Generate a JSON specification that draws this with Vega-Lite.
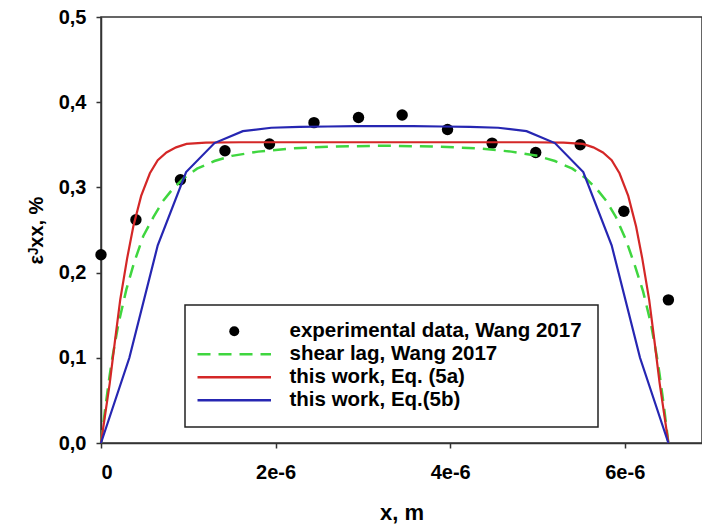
{
  "$schema": "https://vega.github.io/schema/vega-lite/v6.json",
  "width": 601,
  "height": 426,
  "autosize": {"type": "none"},
  "padding": {"left": 101, "top": 17, "right": 0, "bottom": 83},
  "background": "white",
  "config": {
    "view": {"stroke": "#333333", "strokeWidth": 1.5},
    "axis": {
      "grid": false,
      "domainColor": "#333333",
      "domainWidth": 1.5,
      "tickColor": "#333333",
      "tickWidth": 1.5,
      "tickSize": 5,
      "labelFont": "Liberation Sans",
      "labelFontSize": 20,
      "labelFontWeight": "bold",
      "labelColor": "black",
      "titleFont": "Liberation Sans",
      "titleFontSize": 22,
      "titleFontWeight": "bold",
      "titleColor": "black"
    }
  },
  "data": {
    "values": [
      {"x": 0, "y": 0.221, "series": "experimental data, Wang 2017"},
      {"x": 4.0e-7, "y": 0.262, "series": "experimental data, Wang 2017"},
      {"x": 9.1e-7, "y": 0.309, "series": "experimental data, Wang 2017"},
      {"x": 1.42e-6, "y": 0.343, "series": "experimental data, Wang 2017"},
      {"x": 1.93e-6, "y": 0.351, "series": "experimental data, Wang 2017"},
      {"x": 2.44e-6, "y": 0.376, "series": "experimental data, Wang 2017"},
      {"x": 2.95e-6, "y": 0.382, "series": "experimental data, Wang 2017"},
      {"x": 3.45e-6, "y": 0.385, "series": "experimental data, Wang 2017"},
      {"x": 3.97e-6, "y": 0.368, "series": "experimental data, Wang 2017"},
      {"x": 4.48e-6, "y": 0.352, "series": "experimental data, Wang 2017"},
      {"x": 4.98e-6, "y": 0.341, "series": "experimental data, Wang 2017"},
      {"x": 5.49e-6, "y": 0.350, "series": "experimental data, Wang 2017"},
      {"x": 5.99e-6, "y": 0.272, "series": "experimental data, Wang 2017"},
      {"x": 6.5e-6, "y": 0.168, "series": "experimental data, Wang 2017"},

      {"x": 0, "y": 0, "series": "shear lag, Wang 2017"},
      {"x": 5.0e-8, "y": 0.042, "series": "shear lag, Wang 2017"},
      {"x": 1.0e-7, "y": 0.08, "series": "shear lag, Wang 2017"},
      {"x": 1.3e-7, "y": 0.1, "series": "shear lag, Wang 2017"},
      {"x": 2.0e-7, "y": 0.14, "series": "shear lag, Wang 2017"},
      {"x": 2.9e-7, "y": 0.18, "series": "shear lag, Wang 2017"},
      {"x": 3.8e-7, "y": 0.212, "series": "shear lag, Wang 2017"},
      {"x": 4.85e-7, "y": 0.243, "series": "shear lag, Wang 2017"},
      {"x": 6.0e-7, "y": 0.265, "series": "shear lag, Wang 2017"},
      {"x": 7.1e-7, "y": 0.284, "series": "shear lag, Wang 2017"},
      {"x": 8.2e-7, "y": 0.298, "series": "shear lag, Wang 2017"},
      {"x": 9.5e-7, "y": 0.311, "series": "shear lag, Wang 2017"},
      {"x": 1.1e-6, "y": 0.322, "series": "shear lag, Wang 2017"},
      {"x": 1.3e-6, "y": 0.331, "series": "shear lag, Wang 2017"},
      {"x": 1.5e-6, "y": 0.337, "series": "shear lag, Wang 2017"},
      {"x": 1.8e-6, "y": 0.342, "series": "shear lag, Wang 2017"},
      {"x": 2.2e-6, "y": 0.346, "series": "shear lag, Wang 2017"},
      {"x": 2.7e-6, "y": 0.348, "series": "shear lag, Wang 2017"},
      {"x": 3.25e-6, "y": 0.349, "series": "shear lag, Wang 2017"},
      {"x": 3.8e-6, "y": 0.348, "series": "shear lag, Wang 2017"},
      {"x": 4.3e-6, "y": 0.346, "series": "shear lag, Wang 2017"},
      {"x": 4.7e-6, "y": 0.342, "series": "shear lag, Wang 2017"},
      {"x": 5.0e-6, "y": 0.337, "series": "shear lag, Wang 2017"},
      {"x": 5.2e-6, "y": 0.331, "series": "shear lag, Wang 2017"},
      {"x": 5.4e-6, "y": 0.322, "series": "shear lag, Wang 2017"},
      {"x": 5.55e-6, "y": 0.311, "series": "shear lag, Wang 2017"},
      {"x": 5.68e-6, "y": 0.298, "series": "shear lag, Wang 2017"},
      {"x": 5.79e-6, "y": 0.284, "series": "shear lag, Wang 2017"},
      {"x": 5.9e-6, "y": 0.265, "series": "shear lag, Wang 2017"},
      {"x": 6.015e-6, "y": 0.238, "series": "shear lag, Wang 2017"},
      {"x": 6.12e-6, "y": 0.207, "series": "shear lag, Wang 2017"},
      {"x": 6.21e-6, "y": 0.178, "series": "shear lag, Wang 2017"},
      {"x": 6.3e-6, "y": 0.14, "series": "shear lag, Wang 2017"},
      {"x": 6.37e-6, "y": 0.1, "series": "shear lag, Wang 2017"},
      {"x": 6.4e-6, "y": 0.08, "series": "shear lag, Wang 2017"},
      {"x": 6.45e-6, "y": 0.042, "series": "shear lag, Wang 2017"},
      {"x": 6.5e-6, "y": 0, "series": "shear lag, Wang 2017"},

      {"x": 0, "y": 0, "series": "this work, Eq. (5a)"},
      {"x": 5.0e-8, "y": 0.035, "series": "this work, Eq. (5a)"},
      {"x": 1.0e-7, "y": 0.07, "series": "this work, Eq. (5a)"},
      {"x": 1.6e-7, "y": 0.12, "series": "this work, Eq. (5a)"},
      {"x": 2.2e-7, "y": 0.168, "series": "this work, Eq. (5a)"},
      {"x": 3.0e-7, "y": 0.217, "series": "this work, Eq. (5a)"},
      {"x": 3.7e-7, "y": 0.254, "series": "this work, Eq. (5a)"},
      {"x": 4.6e-7, "y": 0.29, "series": "this work, Eq. (5a)"},
      {"x": 5.6e-7, "y": 0.3166, "series": "this work, Eq. (5a)"},
      {"x": 6.5e-7, "y": 0.332, "series": "this work, Eq. (5a)"},
      {"x": 7.5e-7, "y": 0.341, "series": "this work, Eq. (5a)"},
      {"x": 8.6e-7, "y": 0.347, "series": "this work, Eq. (5a)"},
      {"x": 9.8e-7, "y": 0.351, "series": "this work, Eq. (5a)"},
      {"x": 1.2e-6, "y": 0.3525, "series": "this work, Eq. (5a)"},
      {"x": 1.6e-6, "y": 0.353, "series": "this work, Eq. (5a)"},
      {"x": 3.25e-6, "y": 0.353, "series": "this work, Eq. (5a)"},
      {"x": 4.9e-6, "y": 0.353, "series": "this work, Eq. (5a)"},
      {"x": 5.3e-6, "y": 0.3525, "series": "this work, Eq. (5a)"},
      {"x": 5.52e-6, "y": 0.351, "series": "this work, Eq. (5a)"},
      {"x": 5.64e-6, "y": 0.347, "series": "this work, Eq. (5a)"},
      {"x": 5.75e-6, "y": 0.341, "series": "this work, Eq. (5a)"},
      {"x": 5.85e-6, "y": 0.332, "series": "this work, Eq. (5a)"},
      {"x": 5.94e-6, "y": 0.3166, "series": "this work, Eq. (5a)"},
      {"x": 6.04e-6, "y": 0.29, "series": "this work, Eq. (5a)"},
      {"x": 6.13e-6, "y": 0.254, "series": "this work, Eq. (5a)"},
      {"x": 6.2e-6, "y": 0.217, "series": "this work, Eq. (5a)"},
      {"x": 6.28e-6, "y": 0.168, "series": "this work, Eq. (5a)"},
      {"x": 6.34e-6, "y": 0.12, "series": "this work, Eq. (5a)"},
      {"x": 6.4e-6, "y": 0.07, "series": "this work, Eq. (5a)"},
      {"x": 6.45e-6, "y": 0.035, "series": "this work, Eq. (5a)"},
      {"x": 6.5e-6, "y": 0, "series": "this work, Eq. (5a)"},

      {"x": 0, "y": 0, "series": "this work, Eq.(5b)"},
      {"x": 3.25e-7, "y": 0.1, "series": "this work, Eq.(5b)"},
      {"x": 6.5e-7, "y": 0.232, "series": "this work, Eq.(5b)"},
      {"x": 9.75e-7, "y": 0.318, "series": "this work, Eq.(5b)"},
      {"x": 1.3e-6, "y": 0.352, "series": "this work, Eq.(5b)"},
      {"x": 1.625e-6, "y": 0.366, "series": "this work, Eq.(5b)"},
      {"x": 1.95e-6, "y": 0.37, "series": "this work, Eq.(5b)"},
      {"x": 2.275e-6, "y": 0.371, "series": "this work, Eq.(5b)"},
      {"x": 2.6e-6, "y": 0.3715, "series": "this work, Eq.(5b)"},
      {"x": 2.925e-6, "y": 0.372, "series": "this work, Eq.(5b)"},
      {"x": 3.25e-6, "y": 0.372, "series": "this work, Eq.(5b)"},
      {"x": 3.575e-6, "y": 0.372, "series": "this work, Eq.(5b)"},
      {"x": 3.9e-6, "y": 0.3715, "series": "this work, Eq.(5b)"},
      {"x": 4.225e-6, "y": 0.371, "series": "this work, Eq.(5b)"},
      {"x": 4.55e-6, "y": 0.37, "series": "this work, Eq.(5b)"},
      {"x": 4.875e-6, "y": 0.366, "series": "this work, Eq.(5b)"},
      {"x": 5.2e-6, "y": 0.352, "series": "this work, Eq.(5b)"},
      {"x": 5.525e-6, "y": 0.318, "series": "this work, Eq.(5b)"},
      {"x": 5.85e-6, "y": 0.232, "series": "this work, Eq.(5b)"},
      {"x": 6.175e-6, "y": 0.1, "series": "this work, Eq.(5b)"},
      {"x": 6.5e-6, "y": 0, "series": "this work, Eq.(5b)"}
    ]
  },
  "encoding": {
    "x": {
      "field": "x",
      "type": "quantitative",
      "scale": {"domain": [0, 6.885e-6], "nice": false, "zero": false},
      "axis": {
        "title": "x, m",
        "values": [0, 2e-6, 4e-6, 6e-6],
        "labelExpr": "datum.value === 0 ? '0' : format(datum.value * 1e6, 'd') + 'e-6'",
        "labelPadding": 14,
        "titlePadding": 20
      }
    },
    "y": {
      "field": "y",
      "type": "quantitative",
      "scale": {"domain": [0, 0.5], "nice": false},
      "axis": {
        "title": "εᴶxx, %",
        "values": [0, 0.1, 0.2, 0.3, 0.4, 0.5],
        "labelExpr": "replace(format(datum.value, '.1f'), '.', ',')",
        "labelPadding": 10,
        "titlePadding": 12,
        "titleFontSize": 20
      }
    },
    "color": {
      "field": "series",
      "type": "nominal",
      "scale": {
        "domain": ["experimental data, Wang 2017", "shear lag, Wang 2017", "this work, Eq. (5a)", "this work, Eq.(5b)"],
        "range": ["black", "#3fd63f", "#d42727", "#2626b2"]
      },
      "legend": {
        "title": null,
        "orient": "none",
        "legendX": 84,
        "legendY": 288,
        "padding": 16,
        "fillColor": "white",
        "strokeColor": "#222222",
        "rowPadding": 2,
        "labelOffset": 45,
        "symbolOffset": 23,
        "labelFont": "Liberation Sans",
        "labelFontSize": 20.5,
        "labelFontWeight": "bold",
        "labelColor": "black",
        "labelLimit": 500,
        "symbolType": "stroke",
        "symbolSize": 5300,
        "symbolStrokeWidth": 2.5,
        "encode": {
          "legend": {"update": {"strokeWidth": {"value": 1.5}}},
          "symbols": {
            "update": {
              "shape": {"signal": "datum.value === 'experimental data, Wang 2017' ? 'circle' : 'stroke'"},
              "size": {"signal": "datum.value === 'experimental data, Wang 2017' ? 100 : 5400"},
              "fill": {"signal": "datum.value === 'experimental data, Wang 2017' ? 'black' : 'transparent'"},
              "stroke": {"scale": "color", "field": "value"},
              "strokeWidth": {"signal": "datum.value === 'experimental data, Wang 2017' ? 0 : 2.5"},
              "strokeDash": {"signal": "datum.value === 'shear lag, Wang 2017' ? [13, 8] : [1, 0]"},
              "opacity": {"value": 1}
            }
          }
        }
      }
    }
  },
  "layer": [
    {
      "transform": [{"filter": "datum.series === 'experimental data, Wang 2017'"}],
      "mark": {"type": "point", "filled": true, "size": 130, "opacity": 1}
    },
    {
      "transform": [{"filter": "datum.series === 'shear lag, Wang 2017'"}],
      "mark": {"type": "line", "strokeWidth": 2.5, "strokeDash": [13, 8]}
    },
    {
      "transform": [{"filter": "datum.series === 'this work, Eq. (5a)' || datum.series === 'this work, Eq.(5b)'"}],
      "mark": {"type": "line", "strokeWidth": 2.2}
    }
  ]
}
